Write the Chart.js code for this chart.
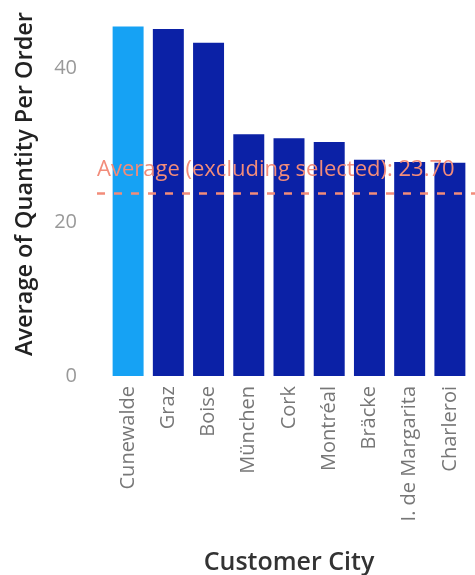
<!DOCTYPE html>
<html>
<head>
<meta charset="utf-8">
<script src="https://cdn.jsdelivr.net/npm/chart.js@4/dist/chart.umd.min.js"></script>
<style>
  html, body { margin: 0; padding: 0; background: #fff; }
  #wrap { width: 475px; height: 575px; }
</style>
</head>
<body>
<div id="wrap"><canvas id="cityChart"></canvas></div>
<script>
const cities = ["Cunewalde", "Graz", "Boise", "München", "Cork", "Montréal", "Bräcke", "I. de Margarita", "Charleroi"];
const avgQuantity = [45.4, 45.1, 43.3, 31.4, 30.9, 30.4, 28.1, 27.8, 27.7];
const selectedCity = "Cunewalde";
const averageExcluding = 23.70;
const yTicks = [0, 20, 40];

const barColors = cities.map(c => c === selectedCity ? '#16A2F4' : '#0B21A6');

// dashed average line + its label
const averageLine = {
  id: 'averageLine',
  afterDatasetsDraw(chart) {
    const ctx = chart.ctx;
    const y = chart.scales.y.getPixelForValue(averageExcluding);
    const left = chart.chartArea.left - 11;
    const right = chart.width;
    ctx.save();
    ctx.strokeStyle = '#F28C7A';
    ctx.lineWidth = 2.5;
    ctx.setLineDash([8, 9]);
    ctx.beginPath();
    ctx.moveTo(left, y);
    ctx.lineTo(right, y);
    ctx.stroke();
    ctx.setLineDash([]);
    ctx.fillStyle = '#F28C7A';
    ctx.font = '22px "Open Sans"';
    ctx.fillText('Average (excluding selected): ' + averageExcluding.toFixed(2), left, y - 18);
    ctx.restore();
  }
};

new Chart(document.getElementById('cityChart').getContext('2d'), {
  type: 'bar',
  data: {
    labels: cities,
    datasets: [{
      label: 'Average of Quantity Per Order',
      data: avgQuantity,
      backgroundColor: barColors,
      borderWidth: 0,
      categoryPercentage: 0.77,
      barPercentage: 1
    }]
  },
  options: {
    responsive: true,
    maintainAspectRatio: false,
    animation: false,
    layout: { padding: { top: 12, right: 5, left: 11, bottom: 0 } },
    plugins: {
      legend: { display: false },
      tooltip: { enabled: false }
    },
    scales: {
      x: {
        grid: { display: false, drawTicks: false },
        border: { display: false },
        ticks: {
          color: '#777',
          font: { family: 'Open Sans', size: 20 },
          minRotation: 90,
          maxRotation: 90,
          padding: 10
        },
        title: {
          display: true,
          text: 'Customer City',
          color: '#333',
          font: { family: 'Open Sans', size: 25, weight: '600' },
          padding: { top: 0, bottom: -3 }
        },
        afterFit(scale) {
          scale.height = 199;
          scale.paddingLeft = 0;
          scale.paddingRight = 0;
        }
      },
      y: {
        min: 0,
        max: 47.3,
        grid: { display: false, drawTicks: false },
        border: { display: false },
        afterBuildTicks(scale) {
          scale.ticks = yTicks.map(v => ({ value: v }));
        },
        ticks: {
          color: '#999',
          font: { family: 'Open Sans', size: 20 },
          padding: 31
        },
        title: {
          display: true,
          text: 'Average of Quantity Per Order',
          align: 'end',
          color: '#222',
          font: { family: 'Open Sans', size: 23.5, weight: '600' },
          padding: { top: 0, bottom: 0 }
        },
        afterFit(scale) {
          scale.width = 97;
          scale.paddingTop = 0;
          scale.paddingBottom = 0;
        }
      }
    }
  },
  plugins: [averageLine]
});
</script>
</body>
</html>
